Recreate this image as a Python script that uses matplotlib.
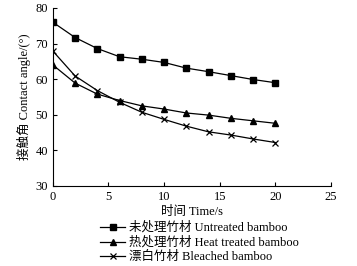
import matplotlib
matplotlib.use("Agg")
import matplotlib.pyplot as plt

time_s = [0, 2, 4, 6, 8, 10, 12, 14, 16, 18, 20]
untreated = [76.0, 71.7, 68.6, 66.3, 65.6, 64.7, 63.1, 62.1, 61.0, 59.9, 59.0]
heat_treated = [64.0, 58.9, 55.8, 54.0, 52.5, 51.6, 50.5, 49.9, 49.0, 48.3, 47.6]
bleached = [67.9, 60.9, 56.8, 53.5, 50.7, 48.7, 46.8, 45.2, 44.3, 43.2, 42.2]
labels = ["未处理竹材 Untreated bamboo", "热处理竹材 Heat treated bamboo", "漂白竹材 Bleached bamboo"]

plt.rcParams['font.family'] = ['Liberation Serif', 'Noto Sans CJK SC']
plt.rcParams['font.size'] = 9

fig = plt.figure(figsize=(3.57, 2.66), dpi=100)
ax = fig.add_axes([0.148, 0.301, 0.779, 0.669])

ax.plot(time_s, untreated, '-s', color='black', lw=0.9, ms=4.5, label=labels[0])
ax.plot(time_s, heat_treated, '-^', color='black', lw=0.9, ms=4.5, label=labels[1])
ax.plot(time_s, bleached, '-x', color='black', lw=0.9, ms=4.5, mew=0.9, label=labels[2])

ax.set_xlim(0, 25)
ax.set_ylim(30, 80)
ax.set_xticks([0, 5, 10, 15, 20, 25])
ax.set_yticks([30, 40, 50, 60, 70, 80])
ax.spines['top'].set_visible(False)
ax.spines['right'].set_visible(False)
ax.tick_params(direction='in', length=3, width=0.8, labelsize=9)
ax.set_xlabel("时间 Time/s", labelpad=2)
ax.set_ylabel("接触角 Contact angle/(°)", labelpad=3)

ax.legend(loc='upper left', bbox_to_anchor=(0.17, -0.2), frameon=False,
          handlelength=2.0, handletextpad=0.3, labelspacing=0.2, borderpad=0, borderaxespad=0)

fig.savefig("out.png", dpi=100)
